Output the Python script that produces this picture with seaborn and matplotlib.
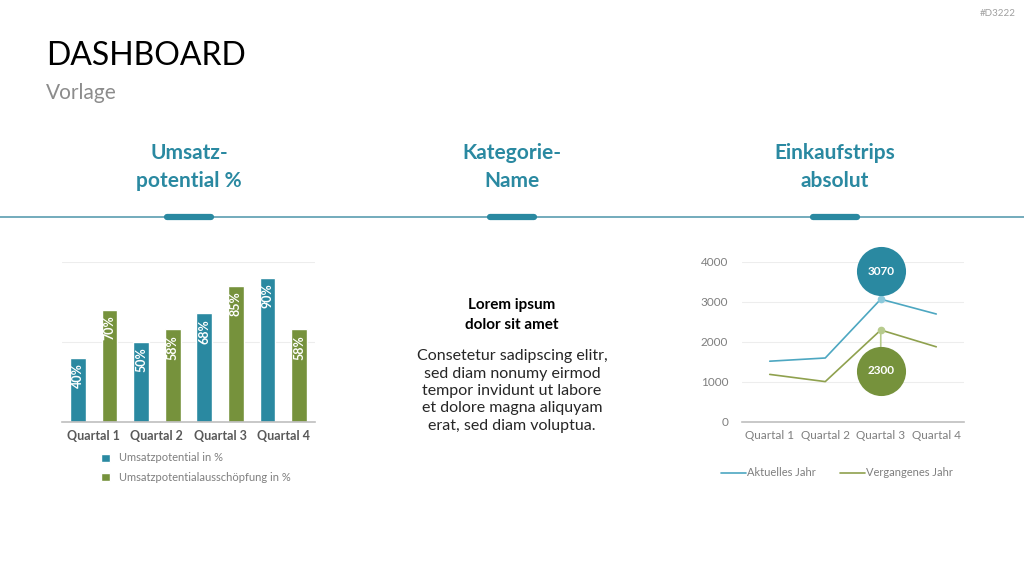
import numpy as np
import pandas as pd
import matplotlib
matplotlib.use("Agg")
import matplotlib.pyplot as plt
from matplotlib.lines import Line2D
from matplotlib.transforms import ScaledTranslation
import seaborn as sns

# data
quartale = ["Quartal 1", "Quartal 2", "Quartal 3", "Quartal 4"]
potential = [40, 50, 68, 90]
ausschoepfung = [70, 58, 85, 58]
bar_series = ["Umsatzpotential in %", "Umsatzpotentialausschöpfung in %"]

aktuelles_jahr = [1520, 1600, 3070, 2700]
vergangenes_jahr = [1190, 1010, 2300, 1880]
line_series = ["Aktuelles Jahr", "Vergangenes Jahr"]
highlight_idx = 2

headings = ["Umsatz-\npotential %", "Kategorie-\nName", "Einkaufstrips\nabsolut"]
body_title = "Lorem ipsum\ndolor sit amet"
body_text = ("Consetetur sadipscing elitr,\nsed diam nonumy eirmod\n"
             "tempor invidunt ut labore\net dolore magna aliquyam\n"
             "erat, sed diam voluptua.")

teal = "#2A89A1"
green = "#76923C"
teal_line = "#4DA7C1"
green_line = "#8FA14E"
gray = "#7F7F7F"

sns.set_theme(style="white")
plt.rcParams["font.family"] = ["Lato", "DejaVu Sans"]

fig = plt.figure(figsize=(10.24, 5.76), dpi=100)
W, H = 1024, 576


def fx(px):
    return px / W


def fy(py):
    return 1 - py / H


# header
fig.text(fx(46), fy(56), "DASHBOARD", fontsize=23, color="black", va="center", ha="left")
fig.text(fx(46), fy(93), "Vorlage", fontsize=15, color="#8C8C8C", va="center", ha="left")
fig.text(fx(1016), fy(13), "#D3222", fontsize=7, color="#A0A0A0", va="center", ha="right")

for cx, txt in zip([189, 512, 835], headings):
    fig.text(fx(cx), fy(167), txt, fontsize=15, fontweight="bold", color=teal,
             ha="center", va="center", linespacing=1.45)
    fig.add_artist(Line2D([fx(cx - 22), fx(cx + 22)], [fy(217), fy(217)], color=teal,
                          lw=4.5, solid_capstyle="round"))
fig.add_artist(Line2D([0, 1], [fy(217), fy(217)], color="#5B9DB0", lw=1.2, zorder=0))

# middle text
fig.text(fx(512), fy(315), body_title, fontsize=11, fontweight="bold", color="black",
         ha="center", va="center", linespacing=1.5)
fig.text(fx(512), fy(391), body_text, fontsize=11.5, color="#262626",
         ha="center", va="center", linespacing=1.3)

# bar chart
ax1 = fig.add_axes([fx(62), fy(422), fx(253), 160 / H])
df_bar = pd.DataFrame({
    "Quartal": quartale * 2,
    "Wert": potential + ausschoepfung,
    "Serie": [bar_series[0]] * 4 + [bar_series[1]] * 4,
})
sns.barplot(data=df_bar, x="Quartal", y="Wert", hue="Serie", palette=[teal, green],
            width=1.0, gap=0.5, saturation=1, ax=ax1, legend=True)
ax1.set_ylim(0, 100)
ax1.set_xlim(-0.5, 3.5)
ax1.set_yticks([0, 50, 100])
ax1.yaxis.grid(True, color="#EDEDED", lw=0.8)
ax1.set_yticklabels([])
ax1.tick_params(axis="y", length=0)
ax1.tick_params(axis="x", length=0, pad=6, labelsize=9, labelcolor="#595959")
for lab in ax1.get_xticklabels():
    lab.set_fontweight("bold")
ax1.set_xlabel("")
ax1.set_ylabel("")
for s in ["top", "right", "left"]:
    ax1.spines[s].set_visible(False)
ax1.spines["bottom"].set_color("#BFBFBF")
ax1.spines["bottom"].set_linewidth(1.2)
for container in ax1.containers:
    for patch in container:
        h = patch.get_height()
        ax1.annotate(f"{h:.0f}%", (patch.get_x() + patch.get_width() / 2, h),
                     xytext=(0, -4), textcoords="offset points", rotation=90,
                     ha="center", va="top", color="white", fontweight="bold", fontsize=9)
ax1.legend(loc="upper left", bbox_to_anchor=(fx(97), fy(448)), bbox_transform=fig.transFigure,
           frameon=False, fontsize=8, labelcolor=gray, handlelength=0.75, handleheight=0.75,
           handletextpad=0.8, labelspacing=0.75, borderaxespad=0)

# line chart
ax2 = fig.add_axes([fx(742), fy(422), fx(222), 160 / H])
df_line = pd.DataFrame({
    "Quartal": quartale * 2,
    "Wert": aktuelles_jahr + vergangenes_jahr,
    "Serie": [line_series[0]] * 4 + [line_series[1]] * 4,
})
sns.lineplot(data=df_line, x="Quartal", y="Wert", hue="Serie", palette=[teal_line, green_line],
             sort=False, lw=1.2, ax=ax2)
ax2.set_ylim(0, 4000)
ax2.set_xlim(-0.5, 3.5)
ax2.set_yticks([0, 1000, 2000, 3000, 4000])
ax2.yaxis.grid(True, color="#EDEDED", lw=0.8)
ax2.tick_params(axis="both", length=0, labelsize=8.5, labelcolor=gray)
ax2.tick_params(axis="x", pad=6)
ax2.tick_params(axis="y", pad=10)
ax2.set_xlabel("")
ax2.set_ylabel("")
for s in ["top", "right", "left"]:
    ax2.spines[s].set_visible(False)
ax2.spines["bottom"].set_color("#BFBFBF")
ax2.spines["bottom"].set_linewidth(1.2)

for vals, col, dot, dy in [(aktuelles_jahr, teal, "#8CC9DB", 28),
                           (vergangenes_jahr, green, "#B7CB8D", -41)]:
    v = vals[highlight_idx]
    ax2.plot([highlight_idx], [v], "o", ms=4.5, color=dot, zorder=4)
    off = ax2.transData + ScaledTranslation(0, dy / 100, fig.dpi_scale_trans)
    ax2.annotate("", xy=(highlight_idx, v), xytext=(0, dy * 0.72), textcoords="offset points",
                 arrowprops=dict(arrowstyle="-", color=dot, lw=1.2, shrinkA=0, shrinkB=0))
    ax2.scatter([highlight_idx], [v], s=1250, color=col, transform=off, zorder=5, linewidths=0,
                clip_on=False)
    ax2.text(highlight_idx, v, f"{v}", transform=off, ha="center", va="center", color="white",
             fontweight="bold", fontsize=8.5, zorder=6)

ax2.legend(loc="center", bbox_to_anchor=(fx(837), fy(473)), bbox_transform=fig.transFigure,
           ncol=2, frameon=False, fontsize=8, labelcolor=gray, handlelength=2.2,
           handletextpad=0.1, columnspacing=2.2, borderaxespad=0)

fig.savefig("out.png", dpi=100)
